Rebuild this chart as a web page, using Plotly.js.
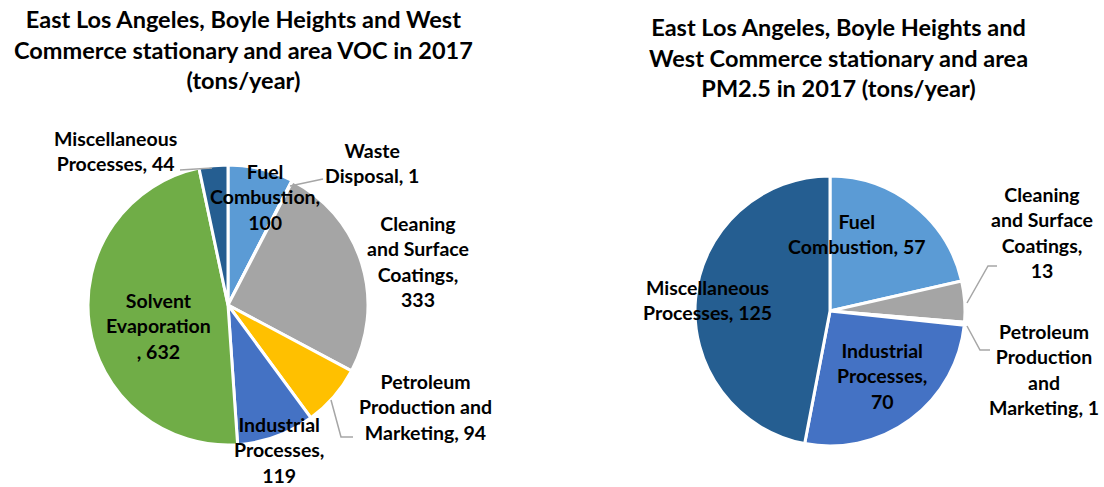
<!DOCTYPE html>
<html><head><meta charset="utf-8">
<script src="https://cdn.plot.ly/plotly-3.0.1.min.js"></script>
<style>html,body{margin:0;padding:0;background:#fff}#c{width:1104px;height:487px}</style>
</head><body><div id="c"></div>
<script>
// ---- data ----
const vocCategories = ["Fuel Combustion","Waste Disposal","Cleaning and Surface Coatings","Petroleum Production and Marketing","Industrial Processes","Solvent Evaporation","Miscellaneous Processes"];
const vocValues = [100, 1, 333, 94, 119, 632, 44];
const vocLabelText = ["Fuel<br>Combustion,<br>", "Waste<br>Disposal, ", "Cleaning<br>and Surface<br>Coatings,<br>", "Petroleum<br>Production and<br>Marketing, ", "Industrial<br>Processes,<br>", "Solvent<br>Evaporation<br>, ", "Miscellaneous<br>Processes, "];
const pmCategories = ["Fuel Combustion","Cleaning and Surface Coatings","Petroleum Production and Marketing","Industrial Processes","Miscellaneous Processes"];
const pmValues = [57, 13, 1, 70, 125];
const pmLabelText = ["Fuel<br>Combustion, ", "Cleaning<br>and Surface<br>Coatings,<br>", "Petroleum<br>Production<br>and<br>Marketing, ", "Industrial<br>Processes,<br>", "Miscellaneous<br>Processes, "];
const titles = ["East Los Angeles, Boyle Heights and West<br>Commerce stationary and area VOC in 2017<br>(tons/year)",
                "East Los Angeles, Boyle Heights and<br>West Commerce stationary and area<br>PM2.5 in 2017 (tons/year)"];

// ---- styling ----
const colorMap = {
  "Fuel Combustion":"#5B9BD5","Waste Disposal":"#ED7D31","Cleaning and Surface Coatings":"#A5A5A5",
  "Petroleum Production and Marketing":"#FFC000","Industrial Processes":"#4472C4",
  "Solvent Evaporation":"#70AD47","Miscellaneous Processes":"#255E91"};
const W = 1104, H = 487;
const px = (x) => x / W, py = (y) => 1 - y / H;
const FONT = "Lato, 'Open Sans', sans-serif";

// label positions (pixel centre of the text block)
const vocLabelPos = [[265,197],[372,163],[418,261],[425,407],[279,450],[158,326],[115,151]];
const pmLabelPos = [[857,234],[1042,233],[1044,369],[882,376],[707,300]];

const traces = [
  {type:"pie", labels:vocCategories, values:vocValues, sort:false, direction:"clockwise", rotation:0,
   textinfo:"none", hoverinfo:"label+value",
   marker:{colors:vocCategories.map(c=>colorMap[c]), line:{color:"#fff", width:3}},
   domain:{x:[px(88),px(368)], y:[py(445),py(165)]}, showlegend:false},
  {type:"pie", labels:pmCategories, values:pmValues, sort:false, direction:"clockwise", rotation:0,
   textinfo:"none", hoverinfo:"label+value",
   marker:{colors:pmCategories.map(c=>colorMap[c]), line:{color:"#fff", width:3}},
   domain:{x:[px(695),px(965)], y:[py(446),py(176)]}, showlegend:false}
];

const annotations = [];
function addLabels(texts, values, pos){
  texts.forEach((t,i)=>{
    annotations.push({text:"<b>"+t+values[i]+"</b>", xref:"paper", yref:"paper",
      x:px(pos[i][0]), y:py(pos[i][1]), xanchor:"center", yanchor:"middle",
      showarrow:false, align:"center", font:{family:FONT, size:19.5, color:"#000"}});
  });
}
addLabels(vocLabelText, vocValues, vocLabelPos);
addLabels(pmLabelText, pmValues, pmLabelPos);
annotations.push({text:"<b>"+titles[0]+"</b>", xref:"paper", yref:"paper", x:px(243), y:py(50),
  xanchor:"center", yanchor:"middle", showarrow:false, align:"center", font:{family:FONT, size:23.5, color:"#000"}});
annotations.push({text:"<b>"+titles[1]+"</b>", xref:"paper", yref:"paper", x:px(838), y:py(57),
  xanchor:"center", yanchor:"middle", showarrow:false, align:"center", font:{family:FONT, size:23.5, color:"#000"}});

// leader lines
const leaders = [
  [[180,170],[212,168]],
  [[323,179],[290,186]],
  [[353,437],[341,437],[331,400]],
  [[997,266],[988,266],[967,303]],
  [[990,350],[980,350],[967,326]]
];
const shapes = leaders.map(pts=>({type:"path", xref:"paper", yref:"paper",
  path: pts.map((p,i)=>(i?"L":"M")+px(p[0])+","+py(p[1])).join(" "),
  line:{color:"#A6A6A6", width:1.5}}));

Plotly.newPlot("c", traces, {width:W, height:H, margin:{l:0,r:0,t:0,b:0},
  paper_bgcolor:"#fff", annotations, shapes}, {staticPlot:true});
</script></body></html>
